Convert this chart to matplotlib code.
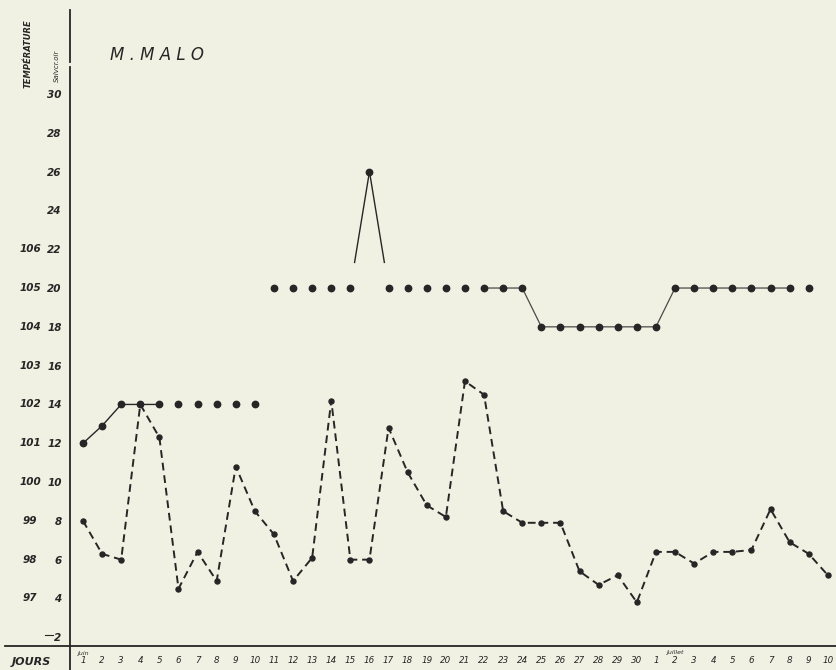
from matplotlib import pyplot as plt

# hand drawn chart of M. Malo, June 1 - July 10
june_days = [str(d) for d in range(1, 31)]
july_days = [str(d) for d in range(1, 11)]
day_labels = june_days + july_days

# upper series (dots), values in the inner scale 2..30
upper_values = [12, 12.9, 14, 14, 14, 14, 14, 14, 14, 14,
                20, 20, 20, 20, 20, 26,
                20, 20, 20, 20, 20, 20, 20, 20,
                18, 18, 18, 18, 18, 18, 18,
                20, 20, 20, 20, 20, 20, 20, 20]

# lower series (dashed line)
lower_values = [8, 6.3, 6.0, 14, 12.3, 4.5, 6.4, 4.9, 10.8, 8.5,
                7.3, 4.9, 6.1, 14.2, 6.0, 6.0, 12.8, 10.5, 8.8, 8.2,
                15.2, 14.5, 8.5, 7.9, 7.9, 7.9, 5.4, 4.7, 5.2, 3.8,
                6.4, 6.4, 5.8, 6.4, 6.4, 6.5, 8.6, 6.9, 6.3, 5.2]

inner_ticks = list(range(2, 32, 2))
fahrenheit_ticks = list(range(97, 107))

paper = '#f1f1e3'
ink = '#262626'
hand = dict(fontstyle='italic', fontweight='bold', color=ink)

fig = plt.figure(figsize=(8.37, 6.70), dpi=100, facecolor=paper)
ax = fig.add_axes([70 / 837, 24 / 670, 767 / 837, 636 / 670])
ax.set_facecolor(paper)
ax.set_xlim(-0.68, 39.48)
ax.set_ylim(1.55, 34.33)

for side in ['top', 'right', 'left', 'bottom']:
    ax.spines[side].set_visible(False)

# hand drawn axes: vertical line runs below the day row, horizontal one runs under JOURS
ax.plot([0, 0], [-0.04, 0.91], transform=ax.transAxes, color=ink, lw=1.3, clip_on=False)
ax.plot([0, 0], [0.918, 1.0], transform=ax.transAxes, color=ink, lw=1.3, clip_on=False)
ax.plot([-0.085, 1.0], [0, 0], transform=ax.transAxes, color=ink, lw=1.3, clip_on=False)

# lower dashed series
x_lower = list(range(len(lower_values)))
ax.plot(x_lower, lower_values, color=ink, lw=1.4, ls=(0, (4, 2.5)),
        marker='o', ms=3.6, zorder=3)

# upper series: dots, joined only in places
x_upper = list(range(len(upper_values)))
ax.plot(x_upper, upper_values, ls='none', marker='o', ms=4.6, color=ink, zorder=3)
ax.plot(x_upper[0:5], upper_values[0:5], color=ink, lw=1.0)
ax.plot(x_upper[21:38], upper_values[21:38], color='#4a4a4a', lw=0.9)

# the peak on day 16 with two strokes that stop short of the neighbours
peak = 15
frac = 0.78
for nb in [peak - 1, peak + 1]:
    ax.plot([x_upper[peak], x_upper[peak] + frac * (x_upper[nb] - x_upper[peak])],
            [upper_values[peak], upper_values[peak] + frac * (upper_values[nb] - upper_values[peak])],
            color=ink, lw=1.0)

# inner temperature scale
ax.set_yticks(inner_ticks)
ax.set_yticklabels([str(v) for v in inner_ticks], fontsize=7.5, **hand)
ax.tick_params(axis='y', length=0, pad=6)
ytrans = ax.get_yaxis_transform()
for f in fahrenheit_ticks:
    ax.text(-0.052, (f - 95) * 2, str(f), transform=ytrans, ha='center', va='center',
            fontsize=7.5, **hand)
ax.text(-0.017, 30.6, 'Salvcr.oir', transform=ytrans, rotation=90, ha='center',
        va='bottom', fontsize=5, color=ink, fontstyle='italic')
ax.text(-0.055, 30.3, 'TEMPÉRATURE', transform=ytrans, rotation=90, ha='center',
        va='bottom', fontsize=6, fontweight='bold', color=ink, fontstyle='italic')
ax.plot([-0.032, -0.022], [2.1, 2.1], transform=ytrans, color=ink, lw=0.8, clip_on=False)

# day row
ax.set_xticks(list(range(len(day_labels))))
ax.set_xticklabels(day_labels, fontsize=6.3, fontstyle='italic', color=ink)
ax.tick_params(axis='x', length=0, pad=7)
xtrans = ax.get_xaxis_transform()
ax.text(0, -0.008, 'Juin', transform=xtrans, ha='center', va='top', fontsize=4.5,
        color=ink, fontstyle='italic')
ax.text(31, -0.006, 'Juillet', transform=xtrans, ha='center', va='top', fontsize=4.5,
        color=ink, fontstyle='italic')
ax.text(-0.05, -0.025, 'JOURS', transform=ax.transAxes, ha='center', va='center',
        fontsize=8, **hand)

# name
ax.text(0.052, 0.93, 'M . M A L O', transform=ax.transAxes, ha='left', va='center',
        fontsize=12, color=ink, fontstyle='italic')

fig.savefig('out.png', dpi=100, facecolor=paper)
